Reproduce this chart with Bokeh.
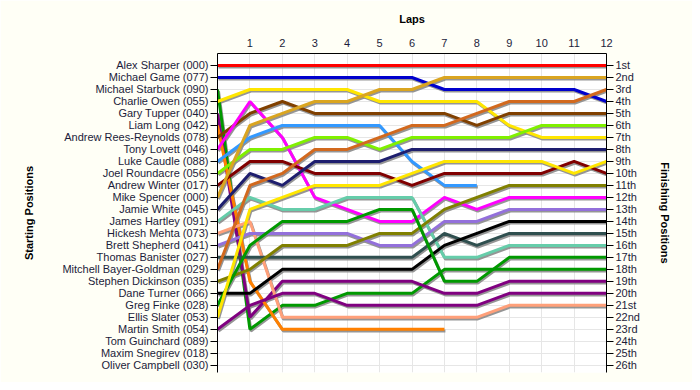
from bokeh.plotting import figure
from bokeh.models import Range1d, LinearAxis, FixedTicker
from bokeh.embed import file_html
from bokeh.resources import INLINE

laps = list(range(13))

start_names = [
    "Alex Sharper (000)", "Michael Game (077)", "Michael Starbuck (090)",
    "Charlie Owen (055)", "Gary Tupper (040)", "Liam Long (042)",
    "Andrew Rees-Reynolds (078)", "Tony Lovett (046)", "Luke Caudle (088)",
    "Joel Roundacre (056)", "Andrew Winter (017)", "Mike Spencer (000)",
    "Jamie White (045)", "James Hartley (091)", "Hickesh Mehta (073)",
    "Brett Shepherd (041)", "Thomas Banister (027)", "Mitchell Bayer-Goldman (029)",
    "Stephen Dickinson (035)", "Dane Turner (066)", "Greg Finke (028)",
    "Ellis Slater (053)", "Martin Smith (054)", "Tom Guinchard (089)",
    "Maxim Snegirev (018)", "Oliver Campbell (030)",
]

finish_labels = [
    "1st", "2nd", "3rd", "4th", "5th", "6th", "7th", "8th", "9th", "10th",
    "11th", "12th", "13th", "14th", "15th", "16th", "17th", "18th", "19th",
    "20th", "21st", "22nd", "23rd", "24th", "25th", "26th",
]

# position of each driver at the end of each lap (lap 0 = grid)
pos_alex_sharper = [1, 1, 1, 1, 1, 1, 1, 1, 1, 1, 1, 1, 1]
pos_michael_game = [2, 2, 2, 2, 2, 2, 2, 3, 3, 3, 3, 3, 4]
pos_michael_starbuck = [3, 23, 21, 21, 20, 20, 20, 18, 18, 18, 18, 18, 18]
pos_charlie_owen = [4, 3, 3, 3, 3, 4, 4, 4, 4, 6, 7, 7, 7]
pos_gary_tupper = [5, 22, 19, 19, 19, 19, 19, 20, 20, 19, 19, 19, 19]
pos_liam_long = [6, 19, 23, 23, 23, 23, 23, 23]
pos_andrew_rees_reynolds = [7, 5, 4, 5, 5, 5, 5, 5, 6, 5, 5, 5, 5]
pos_tony_lovett = [8, 4, 7, 12, 13, 14, 14, 12, 13, 12, 12, 12, 12]
pos_luke_caudle = [9, 7, 6, 6, 6, 6, 9, 11, 11]
pos_joel_roundacre = [10, 8, 8, 7, 7, 8, 7, 7, 7, 7, 6, 6, 6]
pos_andrew_winter = [11, 9, 9, 10, 10, 10, 11, 10, 10, 10, 10, 9, 10]
pos_mike_spencer = [12, 6, 5, 4, 4, 3, 3, 2, 2, 2, 2, 2, 2]
pos_jamie_white = [13, 10, 11, 9, 9, 9, 8, 8, 8, 8, 8, 8, 8]
pos_james_hartley = [14, 12, 13, 13, 12, 12, 12, 17, 17, 16, 16, 16, 16]
pos_hickesh_mehta = [15, 14, 22, 22, 22, 22, 22, 22, 22, 21, 21, 21, 21]
pos_brett_shepherd = [16, 15, 15, 15, 15, 16, 16, 14, 14, 13, 13, 13, 13]
pos_thomas_banister = [17, 17, 17, 17, 17, 17, 17, 15, 16, 15, 15, 15, 15]
pos_mitchell_bayer_goldman = [18, 11, 10, 8, 8, 7, 6, 6, 5, 4, 4, 4, 3]
pos_stephen_dickinson = [19, 18, 16, 16, 16, 15, 15, 13, 12, 11, 11, 11, 11]
pos_dane_turner = [20, 20, 18, 18, 18, 18, 18, 16, 15, 14, 14, 14, 14]
pos_greg_finke = [21, 16, 14, 14, 14, 13, 13, 19, 19, 17, 17, 17, 17]
pos_ellis_slater = [22, 13, 12, 11, 11, 11, 10, 9, 9, 9, 9, 10, 9]
pos_martin_smith = [23, 21, 20, 20, 21, 21, 21, 21, 21, 20, 20, 20, 20]
pos_tom_guinchard = []
pos_maxim_snegirev = []
pos_oliver_campbell = []

positions = [
    pos_alex_sharper, pos_michael_game, pos_michael_starbuck, pos_charlie_owen,
    pos_gary_tupper, pos_liam_long, pos_andrew_rees_reynolds, pos_tony_lovett,
    pos_luke_caudle, pos_joel_roundacre, pos_andrew_winter, pos_mike_spencer,
    pos_jamie_white, pos_james_hartley, pos_hickesh_mehta, pos_brett_shepherd,
    pos_thomas_banister, pos_mitchell_bayer_goldman, pos_stephen_dickinson,
    pos_dane_turner, pos_greg_finke, pos_ellis_slater, pos_martin_smith,
    pos_tom_guinchard, pos_maxim_snegirev, pos_oliver_campbell,
]

colors = [
    "#FF0000", "#0000CD", "#009900", "#FFE600", "#800080", "#FF8000",
    "#804000", "#FF00FF", "#3399FF", "#80F000", "#800000", "#DAA520",
    "#1E1E6E", "#66CDAA", "#FFA07A", "#9370DB", "#2F4F4F", "#D2691E",
    "#808000", "#000000", "#009900", "#FFE600", "#800080",
    "#000000", "#000000", "#000000",
]

W, H = 692, 382
LEFT, RIGHT, TOP, BOTTOM = 217, 86, 53, 10
Y_MAX = 26.6

p = figure(
    width=W, height=H,
    x_range=Range1d(0, 12), y_range=Range1d(Y_MAX, 0),
    x_axis_location="above",
    output_backend="svg", toolbar_location=None,
    min_border_left=LEFT, min_border_right=RIGHT,
    min_border_top=TOP, min_border_bottom=BOTTOM,
    background_fill_color="#FFFFFF", border_fill_color="#FFFFF6",
    outline_line_color=None,
)

FONT = "Liberation Sans"
LBL_COLOR = "#1C1C3A"

# top axis (laps)
xa = p.xaxis[0]
xa.ticker = FixedTicker(ticks=laps)
xa.major_label_overrides = {0: ""}
xa.major_tick_out = 0
xa.major_tick_in = 0
xa.minor_tick_line_color = None
xa.major_label_standoff = 7
xa.axis_label = "Laps"
xa.axis_label_standoff = 11
xa.axis_line_color = "#000000"

# left axis (starting positions)
ya = p.yaxis[0]
ya.ticker = FixedTicker(ticks=list(range(1, 27)))
ya.major_label_overrides = {i + 1: n for i, n in enumerate(start_names)}
ya.axis_label = "Starting Positions"
ya.axis_label_standoff = 24

# right axis (finishing positions)
ra = LinearAxis(
    ticker=FixedTicker(ticks=list(range(1, 27))),
    major_label_overrides={i + 1: n for i, n in enumerate(finish_labels)},
    axis_label="Finishing Positions",
    axis_label_standoff=16,
)
p.add_layout(ra, "right")

for ax in (ya, ra):
    ax.major_tick_out = 7
    ax.major_tick_in = 0
    ax.minor_tick_line_color = None
    ax.major_label_standoff = 2
    ax.axis_line_color = "#000000"
    ax.major_tick_line_color = "#000000"

for ax in (xa, ya, ra):
    ax.major_label_text_font = FONT
    ax.major_label_text_font_size = "11px"
    ax.major_label_text_color = LBL_COLOR
    ax.axis_label_text_font = FONT
    ax.axis_label_text_font_size = "11px"
    ax.axis_label_text_font_style = "bold"
    ax.axis_label_text_color = "#000000"

p.xgrid.grid_line_color = "#E6E6E6"
p.ygrid.grid_line_color = "#E6E6E6"

# pixel -> data offsets for the drop shadow
frame_w = W - LEFT - RIGHT
frame_h = H - TOP - BOTTOM
dx = 1.0 * 12 / frame_w
dy = 1.6 * Y_MAX / frame_h

for pos in positions:
    if not pos:
        continue
    xs = [l + dx for l in laps[:len(pos)]]
    ys = [v + dy for v in pos]
    p.line(xs, ys, line_color="#8A8A8A", line_width=3, line_alpha=0.9)

for pos, c in zip(positions, colors):
    if not pos:
        continue
    p.line(laps[:len(pos)], pos, line_color=c, line_width=3)

open("out.html", "w").write(file_html(p, INLINE))
